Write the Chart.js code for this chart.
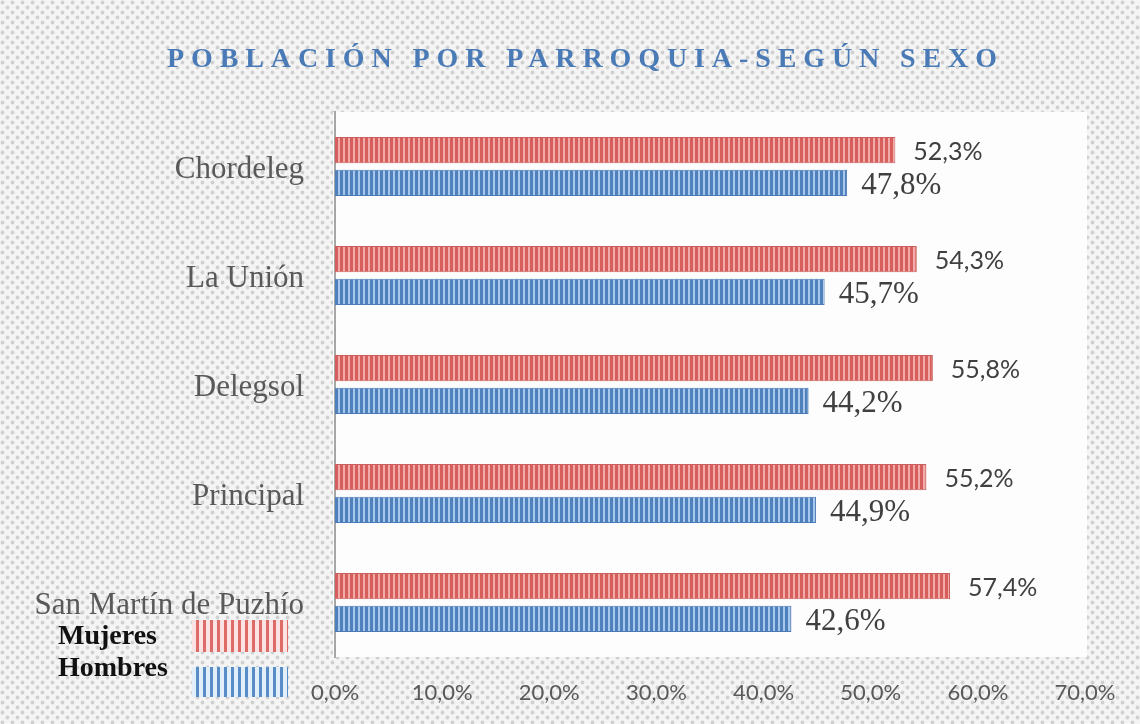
<!DOCTYPE html>
<html>
<head>
<meta charset="utf-8">
<script src="https://cdn.jsdelivr.net/npm/chart.js@4"></script>
<style>
  html, body { margin: 0; padding: 0; background: #f1f1f1; }
  canvas { display: block; }
</style>
</head>
<body>
<canvas id="myChart" width="1140" height="724"></canvas>
<script>
  const labels = [
    'Chordeleg',
    'La Unión',
    'Delegsol',
    'Principal',
    'San Martín de Puzhío',
  ];
  const mujeres = [52.3, 54.3, 55.8, 55.2, 57.4];
  const hombres = [47.8, 45.7, 44.2, 44.9, 42.6];
  const tickValues = [0, 10, 20, 30, 40, 50, 60, 70];

  const pct = v => v.toFixed(1).replace('.', ',') + '%';

  // small canvases used as fill patterns
  function stripes(dark, light, w, dw) {
    const c = document.createElement('canvas');
    c.width = w; c.height = 4;
    const g = c.getContext('2d');
    g.fillStyle = light; g.fillRect(0, 0, w, 4);
    g.fillStyle = dark; g.fillRect(0, 0, dw, 4);
    return document.createElement('canvas').getContext('2d').createPattern(c, 'repeat');
  }
  function dots() {
    const c = document.createElement('canvas');
    c.width = 10; c.height = 10;
    const g = c.getContext('2d');
    g.fillStyle = '#f4f4f4'; g.fillRect(0, 0, 10, 10);
    g.fillStyle = '#d0d0d0';
    g.beginPath(); g.arc(2.5, 2.5, 1.9, 0, Math.PI * 2); g.fill();
    g.beginPath(); g.arc(7.5, 7.5, 1.9, 0, Math.PI * 2); g.fill();
    return c;
  }

  const redFill = stripes('#d65f5c', '#f2aaaa', 5, 3);
  const blueFill = stripes('#4f81bd', '#a7c8ec', 5, 3);
  const redLegend = stripes('#dd6b68', '#fbe3e3', 7, 3);
  const blueLegend = stripes('#5a8cc8', '#e3eefb', 7, 3);

  const backdrop = {
    id: 'backdrop',
    beforeDraw(chart) {
      const ctx = chart.ctx, a = chart.chartArea;
      ctx.save();
      ctx.fillStyle = ctx.createPattern(dots(), 'repeat');
      ctx.fillRect(0, 0, chart.width, chart.height);
      ctx.fillStyle = '#fdfdfd';
      ctx.fillRect(a.left - 2, a.top, a.right - a.left + 4, a.bottom - a.top);
      ctx.restore();
    }
  };

  const valueLabels = {
    id: 'valueLabels',
    afterDatasetsDraw(chart) {
      const ctx = chart.ctx;
      ctx.save();
      ctx.textBaseline = 'middle';
      ctx.textAlign = 'left';
      chart.data.datasets.forEach((ds, i) => {
        const meta = chart.getDatasetMeta(i);
        ctx.font = i === 0 ? '25px Lato' : '31px "Liberation Serif"';
        ctx.fillStyle = '#404040';
        meta.data.forEach((bar, j) => {
          ctx.fillText(pct(ds.data[j]), bar.x + (i === 0 ? 18 : 14), bar.y + (i === 0 ? 2 : 3));
        });
      });
      ctx.restore();
    }
  };

  const titleAndLegend = {
    id: 'titleAndLegend',
    afterDraw(chart) {
      const ctx = chart.ctx;
      ctx.save();
      // title, spaced out letters
      ctx.font = 'bold 28px "Liberation Serif"';
      ctx.fillStyle = '#4a7bb7';
      ctx.textBaseline = 'middle';
      ctx.textAlign = 'left';
      ctx.letterSpacing = '6.9px';
      ctx.fillText('POBLACIÓN POR PARROQUIA-SEGÚN SEXO', 167, 60);
      ctx.letterSpacing = '0px';
      // legend
      ctx.font = 'bold 28px "Liberation Serif"';
      ctx.fillStyle = '#111';
      ctx.fillText('Mujeres', 58, 637);
      ctx.fillText('Hombres', 58, 669);
      ctx.fillStyle = redLegend;
      ctx.fillRect(192, 620, 96, 32);
      ctx.fillStyle = blueLegend;
      ctx.fillRect(192, 667, 96, 30);
      ctx.restore();
    }
  };

  const data = {
    labels: labels,
    datasets: [{
      label: 'Mujeres',
      data: mujeres,
      backgroundColor: redFill,
      borderColor: '#c9605d',
      borderWidth: 1,
    }, {
      label: 'Hombres',
      data: hombres,
      backgroundColor: blueFill,
      borderColor: '#4a7ab4',
      borderWidth: 1,
    }]
  };

  const config = {
    type: 'bar',
    data,
    options: {
      indexAxis: 'y',
      responsive: false,
      animation: false,
      categoryPercentage: 0.6,
      barPercentage: 0.8,
      layout: { padding: { top: 112, right: 55, left: 0, bottom: 0 } },
      scales: {
        x: {
          min: 0,
          max: 70,
          afterBuildTicks: s => { s.ticks = tickValues.map(v => ({ value: v })); },
          afterFit: s => { s.height = 67; },
          grid: { display: false },
          border: { display: false },
          ticks: {
            padding: 15,
            color: '#595959',
            font: { family: 'Lato', size: 22 },
            callback: v => pct(v),
          }
        },
        y: {
          afterFit: s => { s.width = 335; },
          grid: { display: false },
          border: { display: true, color: '#a6a6a6', width: 2 },
          ticks: {
            padding: 23,
            labelOffset: 3,
            color: '#595959',
            font: { family: 'Liberation Serif', size: 31 },
          }
        }
      },
      plugins: {
        legend: { display: false },
        title: { display: false },
        tooltip: { enabled: false },
      }
    },
    plugins: [backdrop, valueLabels, titleAndLegend]
  };

  var myChart = new Chart(
    document.getElementById('myChart'),
    config
  );
</script>
</body>
</html>
